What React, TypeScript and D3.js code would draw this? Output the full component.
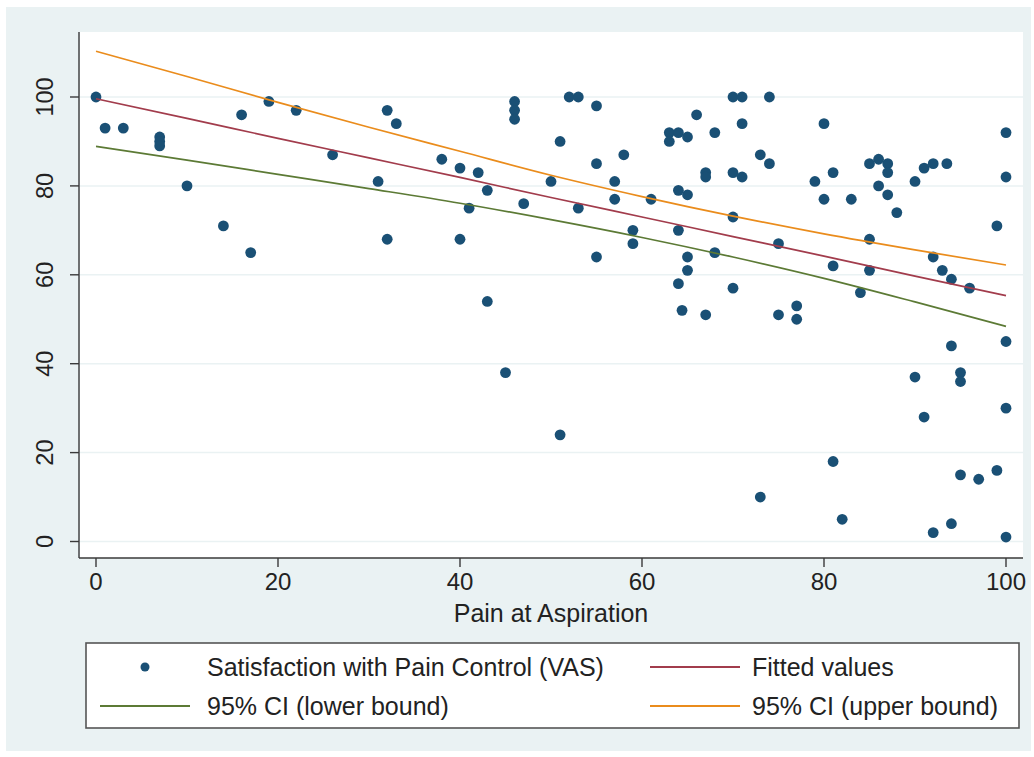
import React from "react";
import * as d3 from "d3";

// Pain at aspiration (x) vs satisfaction with pain control on a VAS (y)
const painAtAspiration = [
  0, 1, 3, 7, 7, 7, 10, 14, 16, 17, 19, 22, 26, 32, 33, 31, 32, 38, 40, 42,
  43, 41, 40, 47, 43, 46, 46, 46, 50, 51, 52, 53, 53, 55, 55, 55, 57, 57, 58, 59,
  59, 61, 63, 63, 64, 65, 66, 68, 64, 65, 67, 67, 70, 71, 71, 70, 71, 74, 73, 74,
  64, 65, 65, 64, 68, 70, 70, 64.4, 67, 75, 75, 77, 77, 79, 80, 80, 81, 81, 83, 84,
  85, 86, 85, 85, 86, 87, 87, 87, 88, 90, 91, 92, 93.5, 92, 93, 94, 96, 99, 100, 100,
  94, 100, 45, 51, 90, 95, 95, 91, 100, 81, 95, 97, 99, 73, 82, 92, 94, 100,
];
const satisfactionVAS = [
  100, 93, 93, 91, 90, 89, 80, 71, 96, 65, 99, 97, 87, 97, 94, 81, 68, 86, 84, 83,
  79, 75, 68, 76, 54, 99, 97, 95, 81, 90, 100, 100, 75, 98, 85, 64, 81, 77, 87, 70,
  67, 77, 92, 90, 92, 91, 96, 92, 79, 78, 83, 82, 100, 100, 94, 83, 82, 100, 87, 85,
  70, 64, 61, 58, 65, 73, 57, 52, 51, 67, 51, 53, 50, 81, 94, 77, 83, 62, 77, 56,
  85, 86, 68, 61, 80, 85, 83, 78, 74, 81, 84, 85, 85, 64, 61, 59, 57, 71, 92, 82,
  44, 45, 38, 24, 37, 38, 36, 28, 30, 18, 15, 14, 16, 10, 5, 2, 4, 1,
];

// Linear fit and its 95% confidence band, evaluated along the x range
const fitX = [0, 10, 20, 30, 40, 50, 60, 70, 80, 90, 100];
const fittedValues = [99.6, 95.2, 90.7, 86.3, 81.9, 77.4, 73.0, 68.6, 64.2, 59.7, 55.3];
const ciLower = [88.9, 85.8, 82.6, 79.4, 76.1, 72.4, 68.4, 64.0, 59.2, 53.9, 48.4];
const ciUpper = [110.3, 104.6, 98.8, 93.2, 87.8, 82.4, 77.6, 73.2, 69.2, 65.6, 62.2];

const xTicks = [0, 20, 40, 60, 80, 100];
const yTicks = [0, 20, 40, 60, 80, 100];

const xTitle = "Pain at Aspiration";
const legendLabels = [
  "Satisfaction with Pain Control (VAS)",
  "Fitted values",
  "95% CI (lower bound)",
  "95% CI (upper bound)",
];

const W = 1034;
const H = 757;
const FONT = "'Liberation Sans', Helvetica, Arial, sans-serif";
const BG = "#eaf2f3";
const INK = "#222";
const AXIS = "#3a3a3a";
const DOT = "#1a5075";
const C_FIT = "#a23c4c";
const C_LO = "#5c7a35";
const C_HI = "#ea8c1c";

// plot region
const PL = 80;
const PR = 1023;
const PT = 32;
const PB = 558;

export default function App() {
  const x = d3.scaleLinear().domain([0, 100]).range([96, 1006]);
  const y = d3.scaleLinear().domain([0, 100]).range([541.5, 97]);

  const mkLine = (vals: number[]) =>
    d3
      .line<number>()
      .x((_, i) => x(fitX[i]))
      .y((v) => y(v))
      .curve(d3.curveMonotoneX)(vals) as string;

  const legendRows = [
    { kind: "dot", color: DOT, label: legendLabels[0], kx: 100, tx: 207, cy: 667 },
    { kind: "line", color: C_FIT, label: legendLabels[1], kx: 650, tx: 752, cy: 667 },
    { kind: "line", color: C_LO, label: legendLabels[2], kx: 100, tx: 207, cy: 706 },
    { kind: "line", color: C_HI, label: legendLabels[3], kx: 650, tx: 752, cy: 706 },
  ];

  return (
    <div style={{ position: "absolute", left: 0, top: 0 }}>
      <svg width={W} height={H} viewBox={`0 0 ${W} ${H}`} style={{ display: "block" }}>
        <rect x={0} y={0} width={W} height={H} fill="#ffffff" />
        <rect x={6} y={7} width={1025} height={744} fill={BG} />
        <rect x={PL} y={PT} width={PR - PL} height={PB - PT} fill="#ffffff" />

        {/* horizontal grid */}
        {yTicks.map((t) => (
          <line key={`g${t}`} x1={PL} x2={PR} y1={y(t)} y2={y(t)} stroke={BG} strokeWidth={1.5} />
        ))}

        {/* axes */}
        <line x1={PL - 1} x2={PL - 1} y1={PT} y2={PB} stroke={AXIS} strokeWidth={1.4} />
        <line x1={PL - 1} x2={PR} y1={PB} y2={PB} stroke={AXIS} strokeWidth={1.4} />

        {yTicks.map((t) => (
          <g key={`y${t}`}>
            <line x1={PL - 10} x2={PL - 1} y1={y(t)} y2={y(t)} stroke={AXIS} strokeWidth={1.4} />
            <text
              x={53}
              y={y(t)}
              transform={`rotate(-90, 53, ${y(t)})`}
              textAnchor="middle"
              fontFamily={FONT}
              fontSize={23.5}
              fill={INK}
            >
              {t}
            </text>
          </g>
        ))}

        {xTicks.map((t) => (
          <g key={`x${t}`}>
            <line x1={x(t)} x2={x(t)} y1={PB} y2={PB + 9} stroke={AXIS} strokeWidth={1.4} />
            <text x={x(t)} y={590} textAnchor="middle" fontFamily={FONT} fontSize={24} fill={INK}>
              {t}
            </text>
          </g>
        ))}

        <text x={(x(0) + x(100)) / 2} y={622} textAnchor="middle" fontFamily={FONT} fontSize={25} fill={INK}>
          {xTitle}
        </text>

        {/* scatter */}
        {painAtAspiration.map((px, i) => (
          <circle key={`p${i}`} cx={x(px)} cy={y(satisfactionVAS[i])} r={5.4} fill={DOT} />
        ))}

        {/* fit and confidence band */}
        <path d={mkLine(fittedValues)} fill="none" stroke={C_FIT} strokeWidth={1.7} />
        <path d={mkLine(ciLower)} fill="none" stroke={C_LO} strokeWidth={1.7} />
        <path d={mkLine(ciUpper)} fill="none" stroke={C_HI} strokeWidth={1.7} />

        {/* legend */}
        <rect x={86} y={643} width={933} height={85} fill="#ffffff" stroke="#555" strokeWidth={1.6} />
        {legendRows.map((r, i) => (
          <g key={`l${i}`}>
            {r.kind === "dot" ? (
              <circle cx={r.kx + 45} cy={r.cy} r={4.5} fill={r.color} />
            ) : (
              <line x1={r.kx} x2={r.kx + 90} y1={r.cy} y2={r.cy} stroke={r.color} strokeWidth={2} />
            )}
            <text x={r.tx} y={r.cy + 9} fontFamily={FONT} fontSize={25} fill={INK}>
              {r.label}
            </text>
          </g>
        ))}
      </svg>
    </div>
  );
}
